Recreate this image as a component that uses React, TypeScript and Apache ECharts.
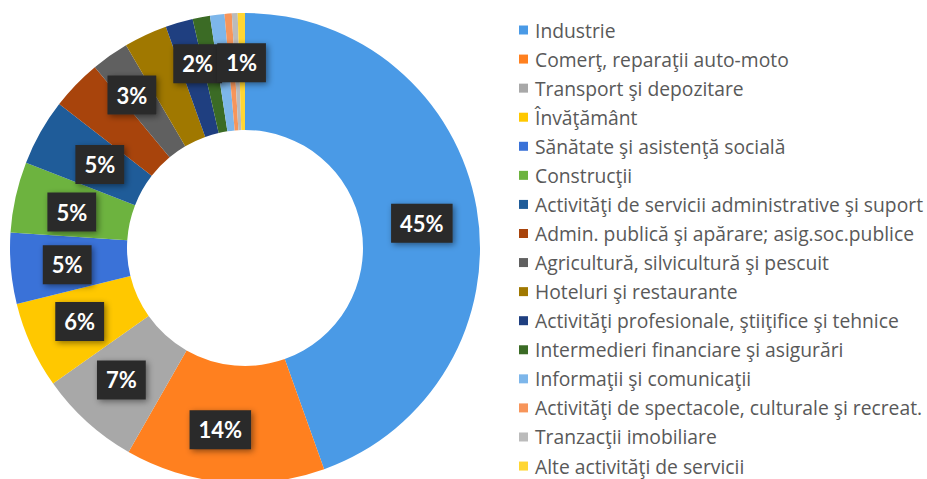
import React, { useEffect, useRef } from "react";
import * as echarts from "echarts";

const categories: string[] = [
  "Industrie",
  "Comerţ, reparaţii auto-moto",
  "Transport şi depozitare",
  "Învăţământ",
  "Sănătate şi asistenţă socială",
  "Construcţii",
  "Activităţi de servicii administrative şi suport",
  "Admin. publică şi apărare; asig.soc.publice",
  "Agricultură, silvicultură şi pescuit",
  "Hoteluri şi restaurante",
  "Activităţi profesionale, ştiiţifice şi tehnice",
  "Intermedieri financiare şi asigurări",
  "Informaţii şi comunicaţii",
  "Activităţi de spectacole, culturale şi recreat.",
  "Tranzacţii imobiliare",
  "Alte activităţi de servicii",
];

const values: number[] = [44.8, 13.8, 7.0, 6.0, 4.9, 4.9, 4.6, 3.5, 2.6, 3.0, 1.9, 1.2, 1.0, 0.5, 0.4, 0.5];

const colors: string[] = [
  "#4A9AE6", "#FF801F", "#A8A8A8", "#FFC800", "#3A72D8", "#6DB33F",
  "#1F5C99", "#A8440C", "#606060", "#A07800", "#1F3F80", "#3B6B25",
  "#7DB6EA", "#F7955A", "#BBBBBB", "#FFD633",
];

const showLabel: boolean[] = [true, true, true, true, true, true, true, false, true, false, true, true, false, false, false, false];
const labelOffsets: number[][] = [
  [0, 6], [-9, 3], [-3, -1], [-2, -1], [1, 1], [2, 3], [11, 5], [0, 0],
  [-10, -6], [0, 0], [3, -12], [30, -9], [0, 0], [0, 0], [0, 0], [0, 0],
];

export default function App() {
  const ref = useRef<HTMLDivElement>(null);
  useEffect(() => {
    if (!ref.current) return;
    const chart = echarts.init(ref.current, null, { renderer: "svg" });
    const data = categories.map((name, i) => ({
      name,
      value: values[i],
      itemStyle: { color: colors[i] },
      label: { show: showLabel[i], offset: labelOffsets[i] },
    }));
    chart.setOption({
      animation: false,
      backgroundColor: "#ffffff",
      legend: {
        orient: "vertical",
        left: 519,
        top: 20,
        height: 470,
        padding: 0,
        icon: "rect",
        itemWidth: 9,
        itemHeight: 9,
        itemGap: 9.07,
        selectedMode: false,
        textStyle: {
          color: "#595959",
          fontFamily: "Open Sans",
          fontSize: 19.3,
          lineHeight: 20,
          padding: [0, 0, 0, 2],
        },
        data: categories,
      },
      series: [
        {
          type: "pie",
          center: [245, 248],
          radius: [118, 235],
          startAngle: 90,
          clockwise: true,
          avoidLabelOverlap: false,
          labelLayout: { hideOverlap: false },
          labelLine: { show: false },
          label: {
            position: "inside",
            formatter: (p: any) => Math.round(p.percent) + "%",
            color: "#ffffff",
            fontFamily: "Lato",
            fontWeight: "bold",
            fontSize: 22,
            backgroundColor: "#2a2a2a",
            padding: [9, 9, 8, 9],
            shadowBlur: 6,
            shadowColor: "rgba(0,0,0,0.45)",
            shadowOffsetX: 2,
            shadowOffsetY: 2,
          },
          emphasis: { disabled: true },
          data,
        },
      ],
    });
    return () => chart.dispose();
  }, []);
  return (
    <div
      ref={ref}
      style={{ position: "fixed", left: 0, top: 0, width: 927, height: 479 }}
    />
  );
}
